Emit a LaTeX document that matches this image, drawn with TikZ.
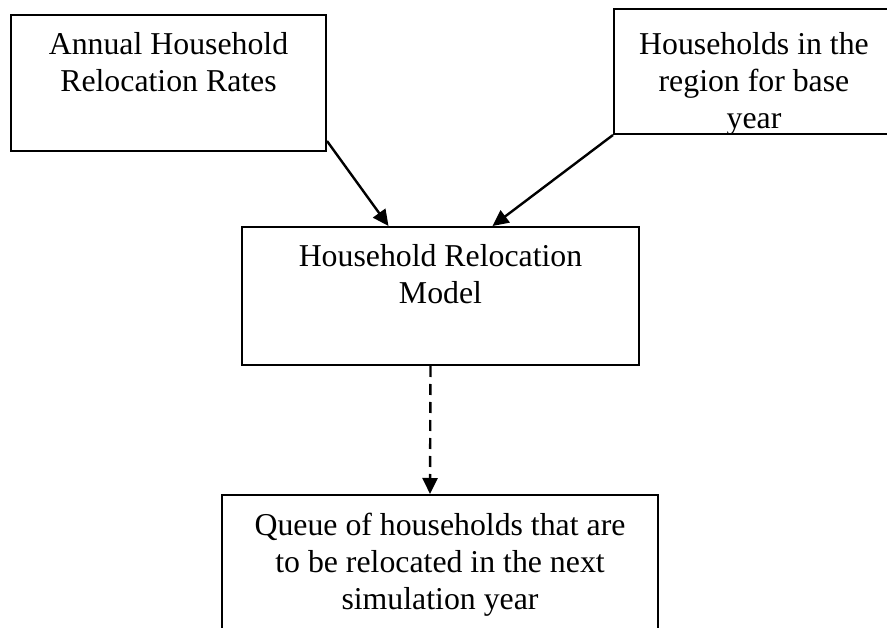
\documentclass[tikz,border=0pt]{standalone}
\usepackage{fontspec}
\setmainfont{Liberation Serif}
\usetikzlibrary{arrows.meta, positioning}
\tikzset{box/.style = {draw, line width=2pt, anchor=north west, inner sep=0pt},
    boxtext/.style = {anchor=north, align=center, inner sep=0pt,
                      font=\fontsize{31.8}{37}\selectfont},
    flow/.style = {line width=2.4pt, -{Triangle[length=16pt, width=15pt]}},
    flowdash/.style = {flow, dash pattern=on 11pt off 7pt}}

\begin{document}
\begin{tikzpicture}[x=1pt, y=-1pt]
\useasboundingbox (0,0) rectangle (887,628);
% input boxes
\node[box, minimum width=315pt, minimum height=136pt] (rates) at (10,14) {};
\node[box, minimum width=280pt, minimum height=125pt] (base) at (613,8) {};
% model and its output
\node[box, minimum width=397pt, minimum height=138pt] (model) at (241,226) {};
\node[box, minimum width=436pt, minimum height=170pt] (queue) at (221,494) {};
% texts
\node[boxtext, below=18pt of rates.north] (ratesT) {Annual Household\\Relocation Rates};
\node[boxtext, below=24pt of base.north] (baseT) {Households in the\\region for base\\year};
\node[boxtext, below=18pt of model.north] (modelT) {Household Relocation\\Model};
\node[boxtext, below=19pt of queue.north] (queueT) {Queue of households that are\\to be relocated in the next\\simulation year};
% connectors
\draw[flow] ([yshift=11pt]rates.south east) -- ([xshift=-52pt]model.north);
\draw[flow] (base.south west) -- ([xshift=52pt]model.north);
\draw[flowdash] ([xshift=-10pt]model.south) -- ([xshift=-10pt]queue.north);
\end{tikzpicture}
\end{document}
